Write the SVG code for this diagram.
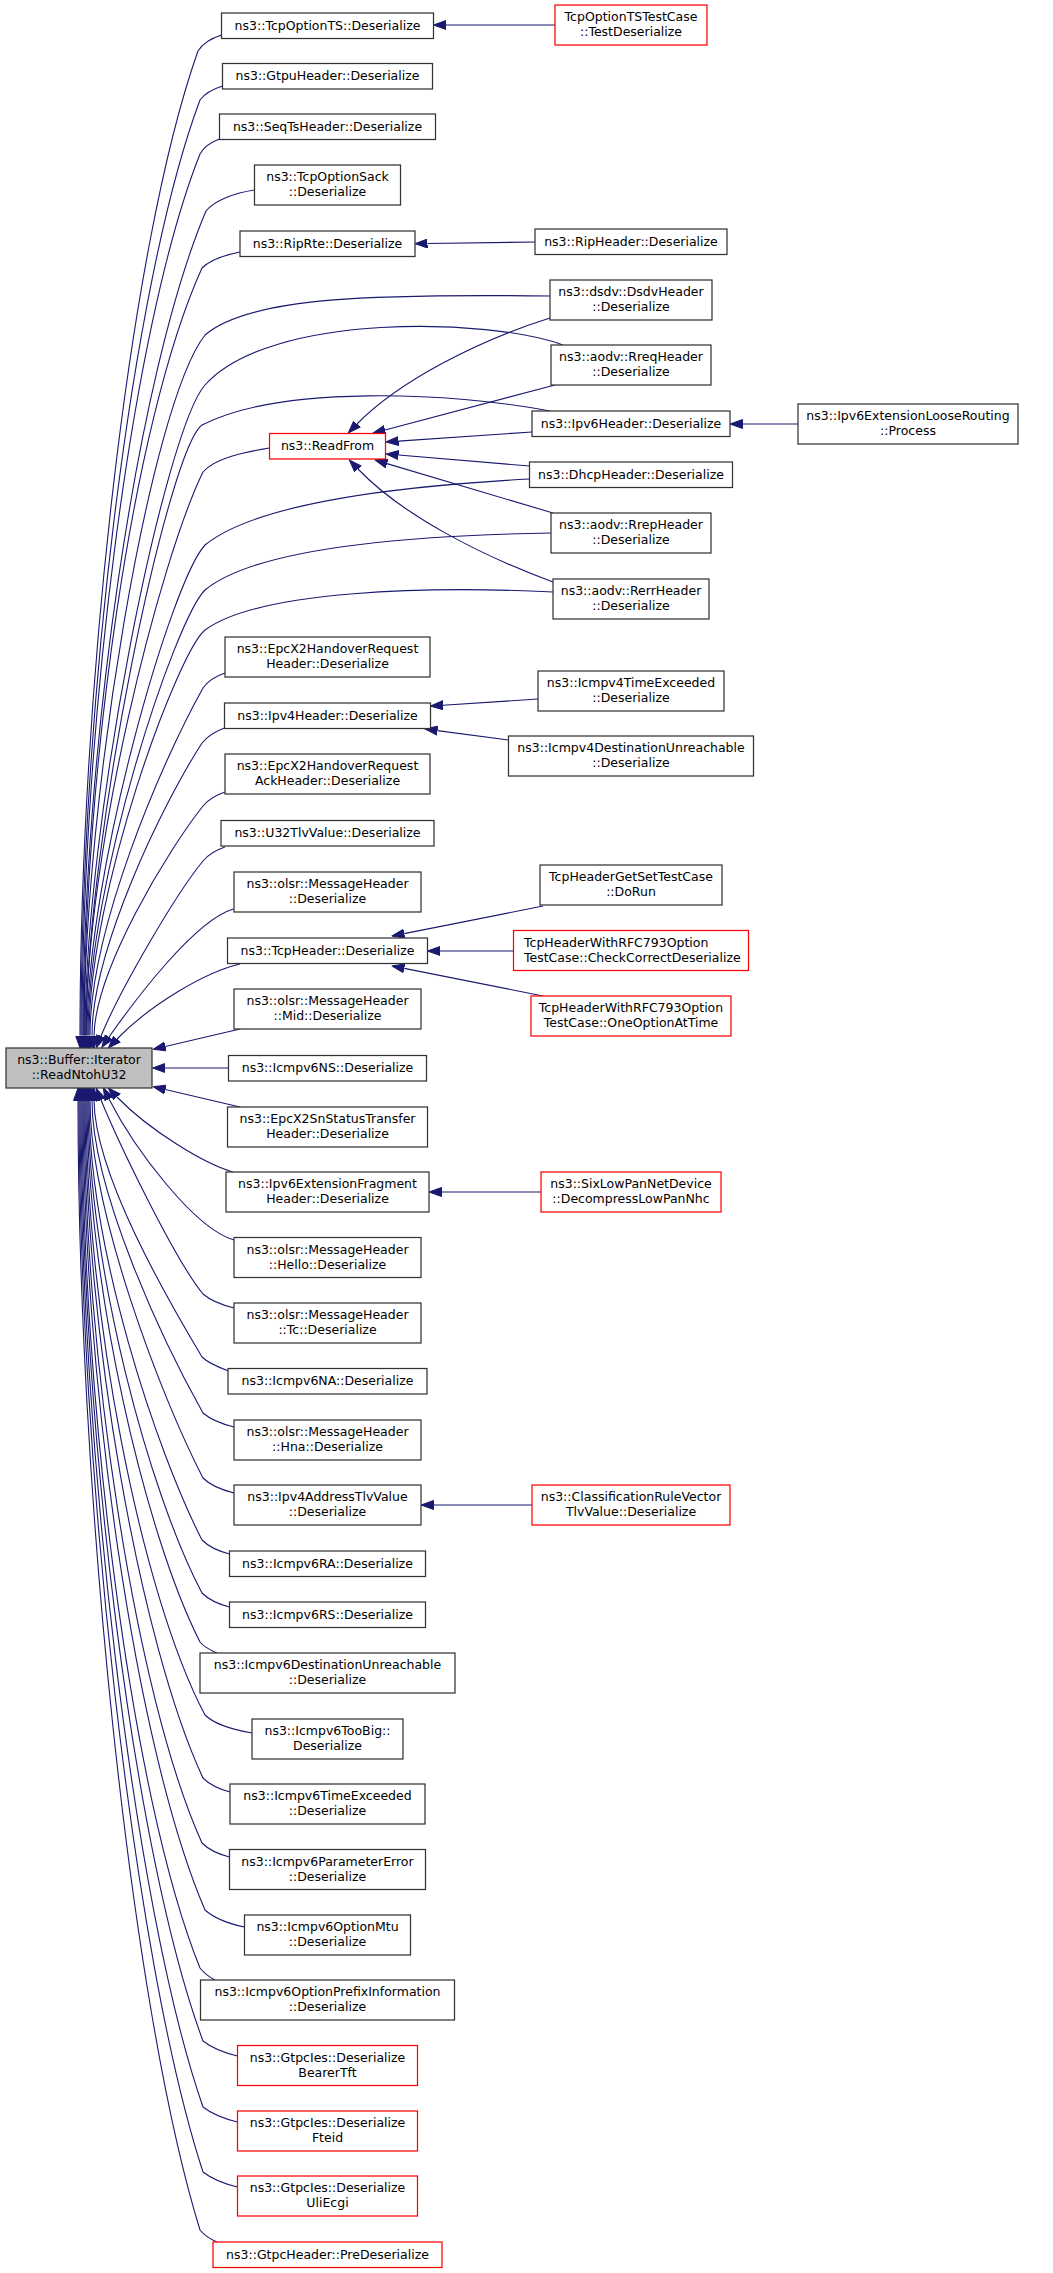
<svg xmlns="http://www.w3.org/2000/svg" width="1053" height="2273" viewBox="0 0 1053 2273">
<style>
.node rect{fill:#ffffff;stroke:#333333;stroke-width:1.25}
.node.red rect{stroke:#ff0000}
.node.root rect{fill:#bfbfbf}
text{font-family:"DejaVu Sans","Liberation Sans",sans-serif;font-size:12.5px;fill:#000000;text-anchor:middle}
text.l{text-anchor:start}
#edges path{fill:none;stroke:#191970;stroke-width:1.1;marker-end:url(#ah)}
</style>
<defs>
<marker id="ah" viewBox="0 -5 13 10" refX="0" refY="0" markerWidth="13" markerHeight="10" markerUnits="userSpaceOnUse" orient="auto">
<path d="M0,-4.5 L12.5,0 L0,4.5 Z" fill="#191970" stroke="#191970" stroke-width="1"/>
</marker>
</defs>
<rect x="0" y="0" width="1053" height="2273" fill="#ffffff"/>
<g id="edges">
<path d="M221.5,35 C212,38 203,43 198,51 C128,248 80,700 80,1035.5"/>
<path d="M222.5,86 C213,89 205,93 200,100 C130,287 81,717 81,1035.5"/>
<path d="M219.5,139 C211,142 204,147 200,154 C130,330 82,735 82,1035.5"/>
<path d="M254.5,190 C235,193 215,200 206,211 C136,376 83,755 83,1035.5"/>
<path d="M240,252 C225,255 210,260 202,268 C132,422 84,774 84,1035.5"/>
<path d="M550,296 C380,294 250,296 205,335 C150,405 84,800 84,1035.5"/>
<path d="M563,345 C490,318 270,312 205,385 C165,430 85,820 85,1035.5"/>
<path d="M550,411 C450,392 280,385 202,425 C168,450 86,840 86,1035.5"/>
<path d="M269.5,448 C245,452 215,458 203,472 C160,560 86,850 86,1035.5"/>
<path d="M529.5,479 C420,485 260,500 205,545 C172,580 87,870 87,1035.5"/>
<path d="M551,533 C430,535 260,545 205,590 C175,620 88,880 88,1035.5"/>
<path d="M553,592 C430,586 260,590 205,630 C178,652 89,890 89,1035.5"/>
<path d="M225,673 C216,676 208,681 203,688 C160,765 90,930 90,1035.5"/>
<path d="M224.5,728 C216,731 208,736 202,743 C162,805 92,950 92,1035.5"/>
<path d="M225,792 C216,795 208,800 203,806 C168,850 95,970 94,1036"/>
<path d="M225,847 C216,850 208,855 203,861 C175,895 120,990 101,1036"/>
<path d="M233.5,909 C195,920 135,1000 109,1037"/>
<path d="M240,964 C205,972 150,1005 117,1039"/>
<path d="M240,1029 L165.3,1046.5"/>
<path d="M228.5,1068 L165,1068"/>
<path d="M240,1107 L165.3,1089.5"/>
<path d="M233,1172 C205,1164 150,1131 117,1097"/>
<path d="M234,1240 C195,1229 135,1150 109,1099"/>
<path d="M234,1308 C222,1305 210,1300 203,1294 C175,1260 120,1146 101,1100"/>
<path d="M228.5,1371 C218,1367 208,1363 202,1357 C168,1300 95,1175 94,1100.5"/>
<path d="M234,1427 C222,1424 210,1419 203,1413 C162,1340 92,1190 92,1100.5"/>
<path d="M234,1493 C222,1490 210,1485 203,1478 C160,1395 90,1210 90,1100.5"/>
<path d="M229.5,1554 C218,1551 208,1546 202,1540 C157,1452 89,1250 89,1100.5"/>
<path d="M229.5,1607 C218,1604 208,1599 202,1593 C150,1495 88,1268 88,1100.5"/>
<path d="M217,1653 C210,1650 204,1647 200,1642 C145,1534 87,1285 87,1100.5"/>
<path d="M252,1733 C235,1730 214,1724 205,1715 C140,1592 86,1310 86,1100.5"/>
<path d="M230,1792 C219,1789 209,1784 203,1778 C140,1643 85,1331 85,1100.5"/>
<path d="M229.5,1857 C218,1854 208,1849 202,1843 C135,1695 84,1353 84,1100.5"/>
<path d="M244.5,1927 C230,1924 214,1918 205,1910 C135,1748 83,1376 83,1100.5"/>
<path d="M215,1980 C209,1977 204,1973 200,1968 C130,1795 82,1396 82,1100.5"/>
<path d="M237.5,2056 C225,2053 212,2048 203,2041 C133,1853 81,1420 81,1100.5"/>
<path d="M237.5,2122 C225,2119 212,2114 203,2107 C133,1906 80,1443 80,1100.5"/>
<path d="M237.5,2187 C225,2184 212,2179 203,2172 C133,1958 79,1465 79,1100.5"/>
<path d="M217,2242 C210,2239 204,2235 200,2230 C130,2004 78,1485 78,1100.5"/>
<path d="M555,25 L446,25"/>
<path d="M535,242 L427.5,243.5"/>
<path d="M798,424 L742.5,424"/>
<path d="M550,318 C480,340 400,380 357,424"/>
<path d="M555,385 L385,430"/>
<path d="M532,432 L398.5,441.1"/>
<path d="M529.5,466 L398.5,455"/>
<path d="M553,513 L387,463.6"/>
<path d="M553,582 C480,555 402,515 358,469"/>
<path d="M538,699 L443,705.2"/>
<path d="M508.5,740 L437.4,730.6"/>
<path d="M543,906 L404.3,933.6"/>
<path d="M513.5,951 L440,951"/>
<path d="M543,996 L404.3,968.4"/>
<path d="M541,1192 L441.5,1192"/>
<path d="M532,1505 L433.5,1505"/>
</g>
<g id="n_root" class="node root"><rect x="6" y="1048" width="146" height="40"/><text><tspan x="79" y="1064">ns3::Buffer::Iterator</tspan><tspan x="79" y="1079">::ReadNtohU32</tspan></text></g>
<g id="n_tcpoptionts" class="node"><rect x="221.5" y="13" width="212" height="25.5"/><text x="327.5" y="29.75">ns3::TcpOptionTS::Deserialize</text></g>
<g id="n_gtpu" class="node"><rect x="222.5" y="63.5" width="210" height="25.5"/><text x="327.5" y="80.25">ns3::GtpuHeader::Deserialize</text></g>
<g id="n_seqts" class="node"><rect x="219.5" y="114" width="216" height="25.5"/><text x="327.5" y="130.75">ns3::SeqTsHeader::Deserialize</text></g>
<g id="n_sack" class="node"><rect x="254.5" y="165" width="146" height="40"/><text><tspan x="327.5" y="181">ns3::TcpOptionSack</tspan><tspan x="327.5" y="196">::Deserialize</tspan></text></g>
<g id="n_riprte" class="node"><rect x="240" y="231" width="175" height="25.5"/><text x="327.5" y="247.75">ns3::RipRte::Deserialize</text></g>
<g id="n_readfrom" class="node red"><rect x="269.5" y="433.5" width="116" height="25.5"/><text x="327.5" y="450.25">ns3::ReadFrom</text></g>
<g id="n_epcx2hr" class="node"><rect x="225" y="637" width="205" height="40"/><text><tspan x="327.5" y="653">ns3::EpcX2HandoverRequest</tspan><tspan x="327.5" y="668">Header::Deserialize</tspan></text></g>
<g id="n_ipv4h" class="node"><rect x="224.5" y="703" width="206" height="25.5"/><text x="327.5" y="719.75">ns3::Ipv4Header::Deserialize</text></g>
<g id="n_epcx2hra" class="node"><rect x="225" y="754" width="205" height="40"/><text><tspan x="327.5" y="770">ns3::EpcX2HandoverRequest</tspan><tspan x="327.5" y="785">AckHeader::Deserialize</tspan></text></g>
<g id="n_u32" class="node"><rect x="221" y="820.5" width="213" height="25.5"/><text x="327.5" y="837.25">ns3::U32TlvValue::Deserialize</text></g>
<g id="n_olsrmh" class="node"><rect x="234" y="872" width="187" height="40"/><text><tspan x="327.5" y="888">ns3::olsr::MessageHeader</tspan><tspan x="327.5" y="903">::Deserialize</tspan></text></g>
<g id="n_tcph" class="node"><rect x="227.5" y="938" width="200" height="25.5"/><text x="327.5" y="954.75">ns3::TcpHeader::Deserialize</text></g>
<g id="n_mid" class="node"><rect x="234" y="989" width="187" height="40"/><text><tspan x="327.5" y="1005">ns3::olsr::MessageHeader</tspan><tspan x="327.5" y="1020">::Mid::Deserialize</tspan></text></g>
<g id="n_icmp6ns" class="node"><rect x="228.5" y="1055.5" width="198" height="25.5"/><text x="327.5" y="1072.25">ns3::Icmpv6NS::Deserialize</text></g>
<g id="n_epcsn" class="node"><rect x="227.5" y="1107" width="200" height="40"/><text><tspan x="327.5" y="1123">ns3::EpcX2SnStatusTransfer</tspan><tspan x="327.5" y="1138">Header::Deserialize</tspan></text></g>
<g id="n_ipv6frag" class="node"><rect x="226" y="1172" width="203" height="40"/><text><tspan x="327.5" y="1188">ns3::Ipv6ExtensionFragment</tspan><tspan x="327.5" y="1203">Header::Deserialize</tspan></text></g>
<g id="n_hello" class="node"><rect x="234" y="1237.5" width="187" height="40"/><text><tspan x="327.5" y="1253.5">ns3::olsr::MessageHeader</tspan><tspan x="327.5" y="1268.5">::Hello::Deserialize</tspan></text></g>
<g id="n_tc" class="node"><rect x="234" y="1303" width="187" height="40"/><text><tspan x="327.5" y="1319">ns3::olsr::MessageHeader</tspan><tspan x="327.5" y="1334">::Tc::Deserialize</tspan></text></g>
<g id="n_icmp6na" class="node"><rect x="228" y="1368.5" width="199" height="25.5"/><text x="327.5" y="1385.25">ns3::Icmpv6NA::Deserialize</text></g>
<g id="n_hna" class="node"><rect x="234" y="1420" width="187" height="40"/><text><tspan x="327.5" y="1436">ns3::olsr::MessageHeader</tspan><tspan x="327.5" y="1451">::Hna::Deserialize</tspan></text></g>
<g id="n_ipv4addr" class="node"><rect x="234" y="1485" width="187" height="40"/><text><tspan x="327.5" y="1501">ns3::Ipv4AddressTlvValue</tspan><tspan x="327.5" y="1516">::Deserialize</tspan></text></g>
<g id="n_icmp6ra" class="node"><rect x="229.5" y="1551" width="196" height="25.5"/><text x="327.5" y="1567.75">ns3::Icmpv6RA::Deserialize</text></g>
<g id="n_icmp6rs" class="node"><rect x="229.5" y="1602" width="196" height="25.5"/><text x="327.5" y="1618.75">ns3::Icmpv6RS::Deserialize</text></g>
<g id="n_icmp6du" class="node"><rect x="200" y="1653" width="255" height="40"/><text><tspan x="327.5" y="1669">ns3::Icmpv6DestinationUnreachable</tspan><tspan x="327.5" y="1684">::Deserialize</tspan></text></g>
<g id="n_toobig" class="node"><rect x="252" y="1719" width="151" height="40"/><text><tspan x="327.5" y="1735">ns3::Icmpv6TooBig::</tspan><tspan x="327.5" y="1750">Deserialize</tspan></text></g>
<g id="n_icmp6te" class="node"><rect x="230" y="1784" width="195" height="40"/><text><tspan x="327.5" y="1800">ns3::Icmpv6TimeExceeded</tspan><tspan x="327.5" y="1815">::Deserialize</tspan></text></g>
<g id="n_icmp6pe" class="node"><rect x="229.5" y="1849.5" width="196" height="40"/><text><tspan x="327.5" y="1865.5">ns3::Icmpv6ParameterError</tspan><tspan x="327.5" y="1880.5">::Deserialize</tspan></text></g>
<g id="n_mtu" class="node"><rect x="244.5" y="1915" width="166" height="40"/><text><tspan x="327.5" y="1931">ns3::Icmpv6OptionMtu</tspan><tspan x="327.5" y="1946">::Deserialize</tspan></text></g>
<g id="n_prefix" class="node"><rect x="200.5" y="1980" width="254" height="40"/><text><tspan x="327.5" y="1996">ns3::Icmpv6OptionPrefixInformation</tspan><tspan x="327.5" y="2011">::Deserialize</tspan></text></g>
<g id="n_bearer" class="node red"><rect x="237.5" y="2045.5" width="180" height="40"/><text><tspan x="327.5" y="2061.5">ns3::GtpcIes::Deserialize</tspan><tspan x="327.5" y="2076.5">BearerTft</tspan></text></g>
<g id="n_fteid" class="node red"><rect x="237.5" y="2111" width="180" height="40"/><text><tspan x="327.5" y="2127">ns3::GtpcIes::Deserialize</tspan><tspan x="327.5" y="2142">Fteid</tspan></text></g>
<g id="n_uli" class="node red"><rect x="237.5" y="2176" width="180" height="40"/><text><tspan x="327.5" y="2192">ns3::GtpcIes::Deserialize</tspan><tspan x="327.5" y="2207">UliEcgi</tspan></text></g>
<g id="n_pre" class="node red"><rect x="213" y="2242" width="229" height="25.5"/><text x="327.5" y="2258.75">ns3::GtpcHeader::PreDeserialize</text></g>
<g id="n_tstc" class="node red"><rect x="555" y="5" width="152" height="40"/><text><tspan x="631" y="21">TcpOptionTSTestCase</tspan><tspan x="631" y="36">::TestDeserialize</tspan></text></g>
<g id="n_riph" class="node"><rect x="535" y="229" width="192" height="25.5"/><text x="631" y="245.75">ns3::RipHeader::Deserialize</text></g>
<g id="n_dsdv" class="node"><rect x="550" y="280" width="162" height="40"/><text><tspan x="631" y="296">ns3::dsdv::DsdvHeader</tspan><tspan x="631" y="311">::Deserialize</tspan></text></g>
<g id="n_rreq" class="node"><rect x="551" y="345" width="160" height="40"/><text><tspan x="631" y="361">ns3::aodv::RreqHeader</tspan><tspan x="631" y="376">::Deserialize</tspan></text></g>
<g id="n_ipv6h" class="node"><rect x="532" y="411" width="198" height="25.5"/><text x="631" y="427.75">ns3::Ipv6Header::Deserialize</text></g>
<g id="n_dhcp" class="node"><rect x="529.5" y="462" width="203" height="25.5"/><text x="631" y="478.75">ns3::DhcpHeader::Deserialize</text></g>
<g id="n_rrep" class="node"><rect x="551" y="513" width="160" height="40"/><text><tspan x="631" y="529">ns3::aodv::RrepHeader</tspan><tspan x="631" y="544">::Deserialize</tspan></text></g>
<g id="n_rerr" class="node"><rect x="553" y="579" width="156" height="40"/><text><tspan x="631" y="595">ns3::aodv::RerrHeader</tspan><tspan x="631" y="610">::Deserialize</tspan></text></g>
<g id="n_icmp4te" class="node"><rect x="538" y="671" width="186" height="40"/><text><tspan x="631" y="687">ns3::Icmpv4TimeExceeded</tspan><tspan x="631" y="702">::Deserialize</tspan></text></g>
<g id="n_icmp4du" class="node"><rect x="508.5" y="736" width="245" height="40"/><text><tspan x="631" y="752">ns3::Icmpv4DestinationUnreachable</tspan><tspan x="631" y="767">::Deserialize</tspan></text></g>
<g id="n_getset" class="node"><rect x="540" y="865" width="182" height="40"/><text><tspan x="631" y="881">TcpHeaderGetSetTestCase</tspan><tspan x="631" y="896">::DoRun</tspan></text></g>
<g id="n_check" class="node red"><rect x="513.5" y="930.5" width="235" height="40"/><text class="l"><tspan x="524" y="946.5">TcpHeaderWithRFC793Option</tspan><tspan x="524" y="961.5">TestCase::CheckCorrectDeserialize</tspan></text></g>
<g id="n_oneopt" class="node red"><rect x="531" y="996" width="200" height="40"/><text><tspan x="631" y="1012">TcpHeaderWithRFC793Option</tspan><tspan x="631" y="1027">TestCase::OneOptionAtTime</tspan></text></g>
<g id="n_sixlow" class="node red"><rect x="541" y="1172" width="180" height="40"/><text><tspan x="631" y="1188">ns3::SixLowPanNetDevice</tspan><tspan x="631" y="1203">::DecompressLowPanNhc</tspan></text></g>
<g id="n_classif" class="node red"><rect x="532" y="1485" width="198" height="40"/><text><tspan x="631" y="1501">ns3::ClassificationRuleVector</tspan><tspan x="631" y="1516">TlvValue::Deserialize</tspan></text></g>
<g id="n_loose" class="node"><rect x="798" y="404" width="220" height="40"/><text><tspan x="908" y="420">ns3::Ipv6ExtensionLooseRouting</tspan><tspan x="908" y="435">::Process</tspan></text></g>
</svg>
